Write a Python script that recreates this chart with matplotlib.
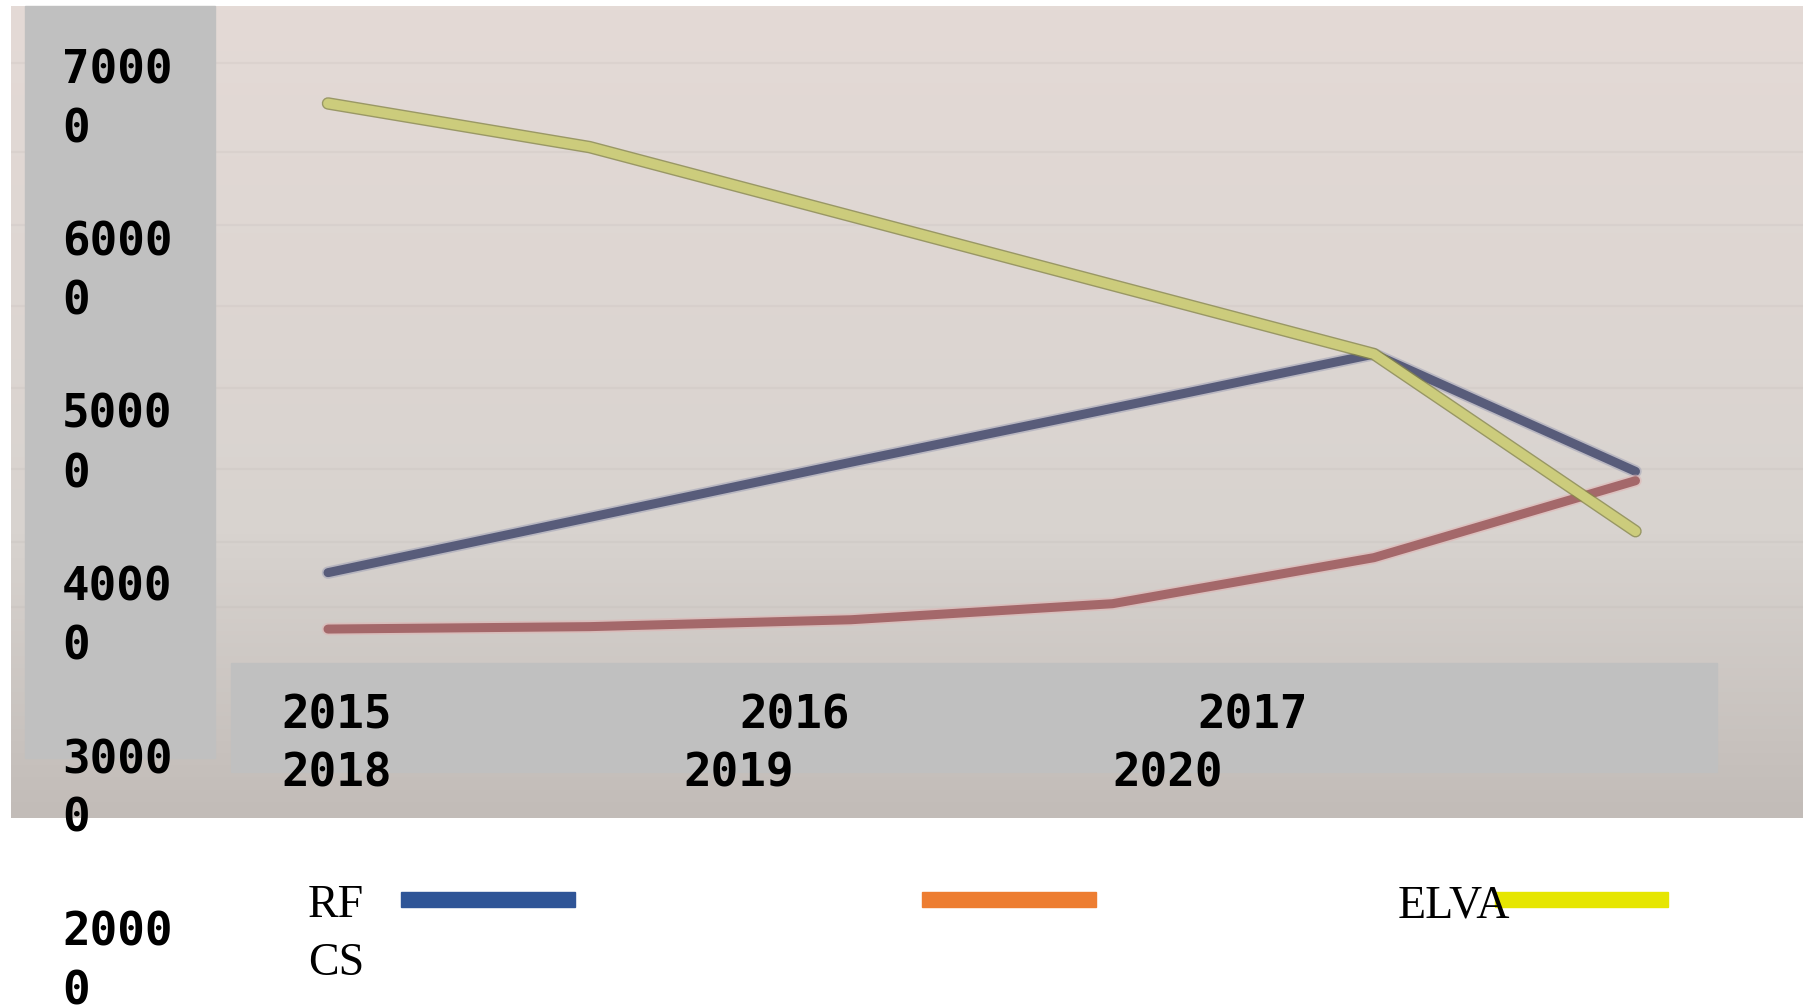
import numpy as np
import matplotlib
matplotlib.use("Agg")
import matplotlib.pyplot as plt
from matplotlib.patches import Rectangle
from matplotlib import patheffects as pe
from matplotlib.transforms import blended_transform_factory

# ---------------- data ----------------
years = ["2015", "2016", "2017", "2018", "2019", "2020"]
rf = [42600, 45800, 49000, 52130, 55270, 48470]
cs = [39330, 39470, 39870, 40800, 43470, 47930]
elva = [69800, 67270, 63270, 59270, 55270, 45000]

ytick_values = [70000, 60000, 50000, 40000, 30000, 20000]
ytick_labels = ["7000\n0", "6000\n0", "5000\n0", "4000\n0", "3000\n0", "2000\n0"]

xlabel_row1 = ["2015", "2016", "2017"]
xlabel_row2 = ["2018", "2019", "2020"]
legend_names = ["RF", "CS", "ELVA"]

# ---------------- figure ----------------
W, H = 1803, 1007
fig = plt.figure(figsize=(W / 100, H / 100), dpi=100)
fig.patch.set_facecolor("white")


def fx(x):
    return x / W


def fy(y):
    return 1 - y / H


# photo background axis
px0, px1, py0, py1 = 11, 1803, 6, 818
bg = fig.add_axes([fx(px0), fy(py1), fx(px1 - px0), (py1 - py0) / H], zorder=0)
top = np.array([228, 218, 214]) / 255
mid = np.array([216, 211, 207]) / 255
bot = np.array([194, 188, 184]) / 255
n = 200
t = np.linspace(0, 1, n)[:, None]
grad = np.where(t < 0.65, top + (mid - top) * (t / 0.65), mid + (bot - mid) * ((t - 0.65) / 0.35))
img = np.repeat(grad[:, None, :], 4, axis=1)
bg.imshow(img, aspect="auto", extent=[0, 1, 0, 1], origin="upper")
for yy in [0.07, 0.18, 0.27, 0.37, 0.47, 0.57, 0.66, 0.74]:
    bg.axhline(1 - yy, color="#b5adab", lw=1.5, alpha=0.15)
bg.set_xlim(0, 1)
bg.set_ylim(0, 1)
bg.axis("off")

# main axis spanning the whole figure
ax = fig.add_axes([0, 0, 1, 1], zorder=1)
ax.patch.set_alpha(0)
ax.axis("off")

# x: index i located at full px 328 + 261.5 i
x0px, dxpx = 328.0, 261.5
ax.set_xlim((0 - x0px) / dxpx, (W - x0px) / dxpx)
# y: 70000 at px 100, 10000 per 172.5 px
y70, dy = 100.0, 172.5
ax.set_ylim(70000 - (H - y70) / dy * 10000, 70000 + y70 / dy * 10000)

xi = np.arange(len(years))

ax.plot(xi, rf, color="#585c7a", lw=6.5, solid_capstyle="round", zorder=3,
        path_effects=[pe.Stroke(linewidth=9, foreground="#9a9cb4", alpha=0.5), pe.Normal()])
ax.plot(xi, cs, color="#a4686a", lw=6.5, solid_capstyle="round", zorder=3,
        path_effects=[pe.Stroke(linewidth=9, foreground="#e0b0b0", alpha=0.5), pe.Normal()])
ax.plot(xi, elva, color="#cccc7c", lw=7, solid_capstyle="round", zorder=4,
        path_effects=[pe.Stroke(linewidth=9, foreground="#88884a", alpha=0.8), pe.Normal()])

# grey boxes
ax.add_patch(Rectangle((fx(25), fy(758)), fx(215 - 25), (758 - 6) / H,
                       transform=fig.transFigure, color="#c0c0c0", zorder=5))
ax.add_patch(Rectangle((fx(231), fy(772)), fx(1717 - 231), (772 - 663) / H,
                       transform=fig.transFigure, color="#c0c0c0", zorder=5))

# y labels
FS = 33
bt = blended_transform_factory(fig.transFigure, ax.transData)
for v, lab in zip(ytick_values, ytick_labels):
    ax.text(fx(62), v, lab, transform=bt, ha="left", va="center", ma="left",
            fontsize=FS, fontweight="bold", family="DejaVu Sans Mono",
            linespacing=1.4, zorder=6)

# x labels
for lab, xp in zip(xlabel_row1, [281, 739, 1197]):
    fig.text(fx(xp), fy(716), lab, ha="left", va="center", fontsize=FS,
             fontweight="bold", family="DejaVu Sans Mono", zorder=6)
for lab, xp in zip(xlabel_row2, [281, 683, 1112]):
    fig.text(fx(xp), fy(774), lab, ha="left", va="center", fontsize=FS,
             fontweight="bold", family="DejaVu Sans Mono", zorder=6)

# legend
serif = ["Liberation Serif", "DejaVu Serif"]
LFS = 33
fig.text(fx(308), fy(906), legend_names[0], ha="left", va="center", fontsize=LFS,
         family=serif, zorder=6)
fig.text(fx(308), fy(964), legend_names[1], ha="left", va="center", fontsize=LFS,
         family=serif, zorder=6)
fig.text(fx(1398), fy(906), legend_names[2], ha="left", va="center", fontsize=LFS,
         family=serif, zorder=6)
for (xa, xb), col in zip([(401, 575), (922, 1096), (1495, 1668)],
                         ["#2f5597", "#ed7d31", "#e6e600"]):
    ax.add_patch(Rectangle((fx(xa), fy(907)), fx(xb - xa), 15 / H,
                           transform=fig.transFigure, color=col, zorder=7))

fig.savefig("out.png", dpi=100)
